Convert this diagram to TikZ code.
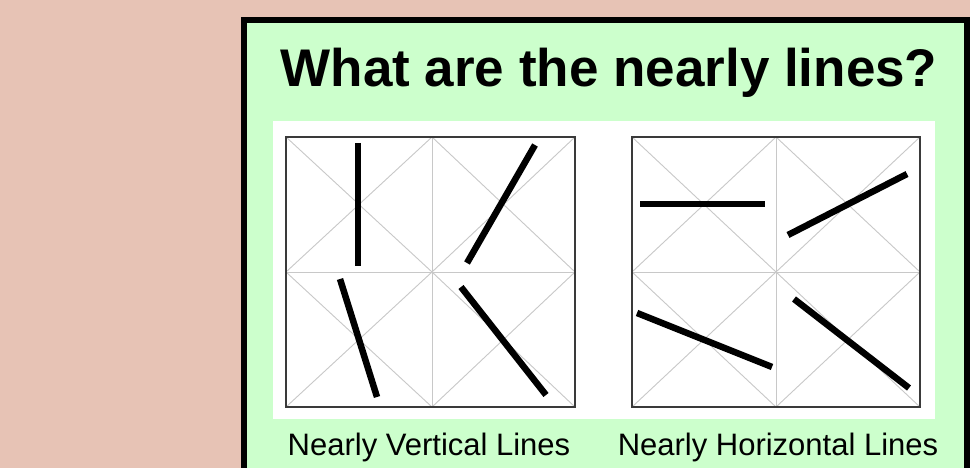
\documentclass[tikz,border=0pt]{standalone}
\usepackage{fontspec}
\setmainfont{Liberation Sans}
\usepackage{tikz}
\usetikzlibrary{positioning}
\definecolor{Rose}{HTML}{E7C3B5}
\definecolor{Mint}{HTML}{CCFFCC}
\definecolor{Frame}{HTML}{3A3A3A}
\definecolor{Guide}{HTML}{C8C8C8}
\tikzset{
  board/.style={draw=black,line width=6bp,fill=Mint},
  sheet/.style={fill=white,draw=none},
  frame/.style={draw=Frame,line width=1.3bp},
  guide/.style={draw=Guide,line width=0.9bp},
  bar/.style={draw=black,line width=6.5bp},
  heading/.style={font=\fontsize{53bp}{60bp}\selectfont\bfseries,anchor=base,inner sep=0pt},
  caption/.style={font=\fontsize{31bp}{36bp}\selectfont,anchor=base,inner sep=0pt}
}

\begin{document}
\begin{tikzpicture}[x=1bp,y=-1bp]
  \useasboundingbox[fill=Rose] (0,0) rectangle (970,468);
  \draw[board] (244,20.5) rectangle (967,500);
  \fill[sheet] (273,121) rectangle (935,419);
  \node[heading] (title) at (609,87) {What are the nearly lines?};
  % two 2x2 grids with crossed cells
  \foreach \gx/\gm/\gr in {286/432/575,632/776/920} {
    \foreach \xa/\xb in {\gx/\gm,\gm/\gr}
      \foreach \ya/\yb in {137/272,272/407}
        \draw[guide] (\xa,\ya) -- (\xb,\yb) (\xa,\yb) -- (\xb,\ya);
    \draw[guide] (\gm,137) -- (\gm,407) (\gx,272) -- (\gr,272);
    \draw[frame] (\gx,137) rectangle (\gr,407);
  }
  % nearly vertical
  \draw[bar] (358,143) -- (358,266);
  \draw[bar] (535,145) -- (467,263);
  \draw[bar] (340,279) -- (377,397);
  \draw[bar] (461,287) -- (546,395);
  % nearly horizontal
  \draw[bar] (640,204) -- (765,204);
  \draw[bar] (788,235) -- (907,174);
  \draw[bar] (637,313) -- (772,367);
  \draw[bar] (794,299) -- (909,388);
  \node[caption] (capV) at (429,455) {Nearly Vertical Lines};
  \node[caption] (capH) at (778,455) {Nearly Horizontal Lines};
\end{tikzpicture}
\end{document}
